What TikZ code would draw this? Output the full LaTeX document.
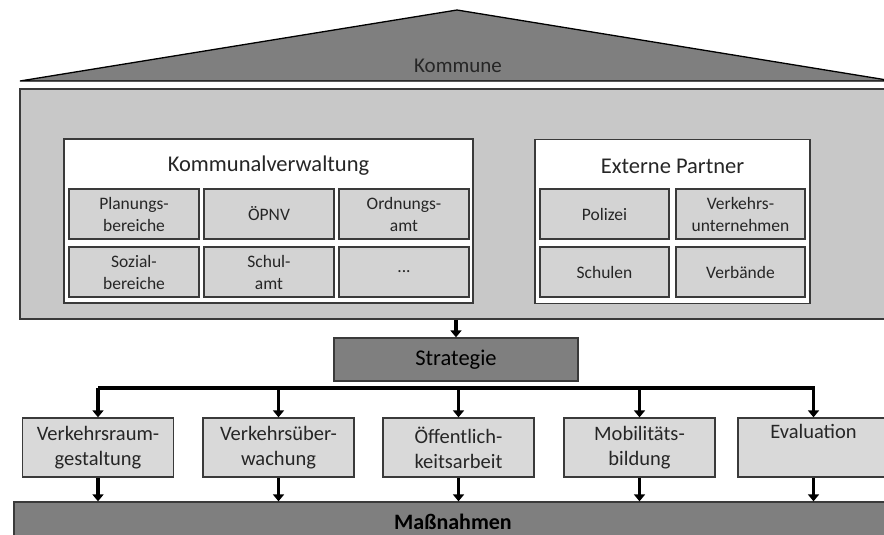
\documentclass[tikz,border=0pt]{standalone}
\usepackage{fontspec}
\setmainfont{Carlito}
\usetikzlibrary{arrows.meta,calc}
\definecolor{darkfill}{HTML}{7F7F7F}
\definecolor{midfill}{HTML}{C8C8C8}
\definecolor{cellfill}{HTML}{D3D3D3}
\definecolor{taskfill}{HTML}{D9D9D9}
\definecolor{edge}{HTML}{3A3A3A}
\definecolor{txt}{HTML}{262626}
\begin{document}
\begin{tikzpicture}[x=1pt,y=-1pt,
  box/.style={draw=edge, line width=1.3pt, inner sep=0pt, align=center, text=txt},
  cell/.style={box, fill=cellfill, minimum width=130pt, minimum height=50pt, font=\fontsize{17.5}{22}\selectfont},
  group/.style={box, fill=white, minimum height=164pt},
  title/.style={text=txt, inner sep=0pt, font=\fontsize{22.5}{27}\selectfont},
  task/.style={box, fill=taskfill, minimum width=151pt, minimum height=59pt, font=\fontsize{20.5}{25}\selectfont},
  darkbox/.style={box, fill=darkfill, text=black},
  conn/.style={line width=3.5pt, draw=black, -{Triangle[width=11pt,length=7pt]}},
  barline/.style={line width=3.5pt, draw=black, line cap=rect}
]
\useasboundingbox (0,0) rectangle (884,535);
\clip (0,0) rectangle (884,535);

% roof
\path[draw=black, line width=1.3pt, fill=darkfill, line join=miter] (20,81) -- (457,10) -- (893,81) -- cycle;
\node[title, font=\fontsize{21}{25}\selectfont] (kommune) at (458,66) {Kommune};

% house body
\node[box, draw=edge, line width=1.5pt, fill=midfill, minimum width=872pt, minimum height=230pt] (haus) at (456,204) {};

% Kommunalverwaltung
\node[group, minimum width=409pt] (kv) at (268.5,221) {};
\node[title] (kvt) at (268.5,166) {Kommunalverwaltung};
\node[cell] (c11) at (134,214) {Planungs-\\bereiche};
\node[cell] (c12) at (269,214) {ÖPNV};
\node[cell] (c13) at (404,214) {Ordnungs-\\amt};
\node[cell] (c21) at (134,272) {Sozial-\\bereiche};
\node[cell] (c22) at (269,272) {Schul-\\amt};
\node[cell] (c23) at (404,272) {...};

% Externe Partner
\node[group, minimum width=275pt] (ep) at (672.5,221.5) {};
\node[title] (ept) at (672.5,166) {Externe Partner};
\node[cell, minimum width=129pt] (e11) at (604.5,214) {Polizei};
\node[cell, minimum width=129pt] (e12) at (740.5,214) {Verkehrs-\\unternehmen};
\node[cell, minimum width=129pt] (e21) at (604.5,272) {Schulen};
\node[cell, minimum width=129pt] (e22) at (740.5,272) {Verbände};

% Strategie
\node[darkbox, minimum width=244pt, minimum height=43pt, font=\fontsize{22.5}{27}\selectfont] (strat) at (456,359.5) {Strategie};
\draw[conn] (strat.north |- haus.south) -- (strat.north);

% tasks
\node[task] (t1) at (98,447.5) {Verkehrsraum-\\gestaltung};
\node[task] (t2) at (278.5,447.5) {Verkehrsüber-\\wachung};
\node[task] (t3) at (458.5,447.5) {Öffentlich-\\keitsarbeit};
\node[task] (t4) at (639.5,447.5) {Mobilitäts-\\bildung};
\node[task] (t5) at (813.5,447.5) {Evaluation\\\strut};

% Massnahmen
\node[darkbox, minimum width=878pt, minimum height=40pt, font=\bfseries\fontsize{22}{26}\selectfont] (mass) at (453,522) {Maßnahmen};

% distribution bar
\coordinate (barL) at (100,388);
\coordinate (barR) at (813.5,388);
\draw[barline] (barL) -- (barR);
\foreach \t in {t1,t2,t3,t4,t5} {
  \draw[conn] (\t.north |- barL) -- (\t.north);
  \draw[conn] (\t.south) -- (\t.south |- mass.north);
}
\end{tikzpicture}
\end{document}
